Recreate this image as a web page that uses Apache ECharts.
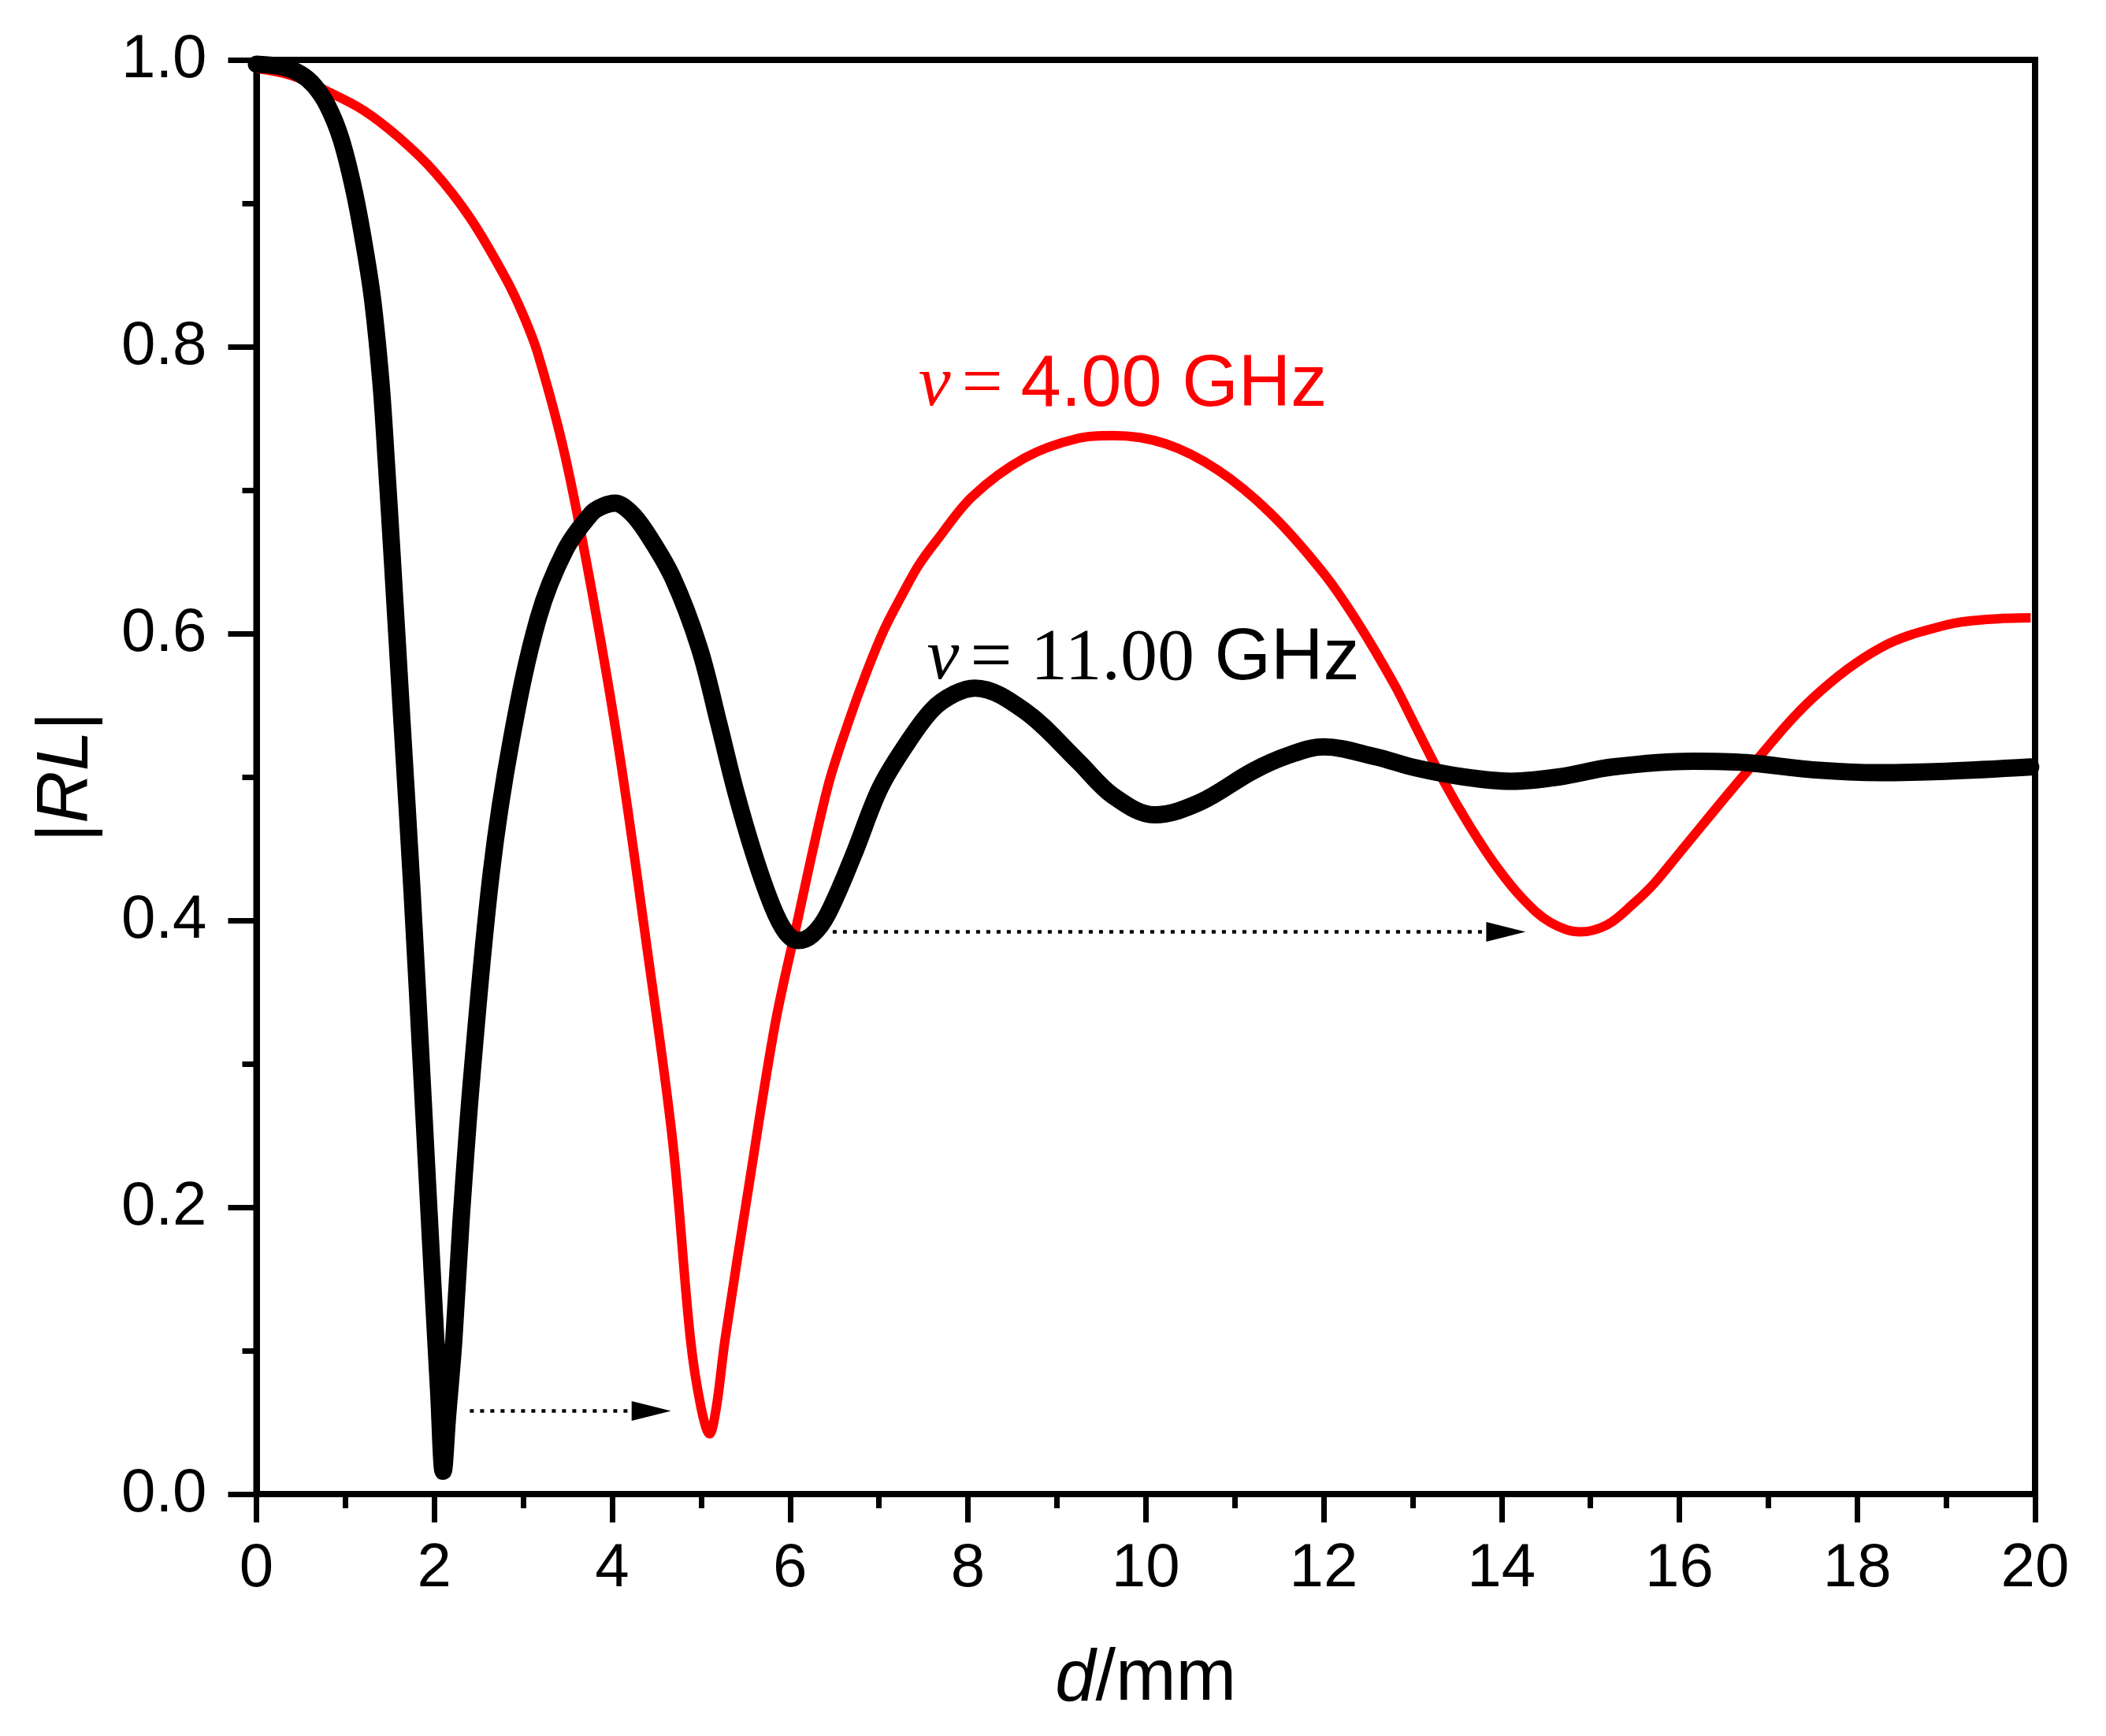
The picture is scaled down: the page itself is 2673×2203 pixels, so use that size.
<!DOCTYPE html>
<html>
<head>
<meta charset="utf-8">
<script src="https://cdn.jsdelivr.net/npm/echarts@6/dist/echarts.min.js"></script>
<style>
html,body{margin:0;padding:0;background:#fff;}
#chart{width:2673px;height:2203px;}
</style>
</head>
<body>
<div id="chart"></div>
<script>
// ---- data ----
var xTicks = [0, 2, 4, 6, 8, 10, 12, 14, 16, 18, 20];
var yTicks = [0.0, 0.2, 0.4, 0.6, 0.8, 1.0];

// nu = 11.00 GHz (black)
var blackX = [0, 0.3, 0.5, 0.65, 0.80, 0.95, 1.10, 1.22, 1.31, 1.40, 1.46, 1.52, 1.63, 1.75, 1.87, 1.98, 2.05, 2.10,
  2.15, 2.22, 2.30, 2.42, 2.64, 2.87, 3.17, 3.47, 3.77, 3.90, 4.03, 4.20, 4.38, 4.68, 4.98, 5.20, 5.38, 5.59, 5.80, 5.95, 6.09,
  6.25, 6.42, 6.71, 7.01, 7.30, 7.60, 7.85, 8.08, 8.64, 9.23, 9.63, 10.10, 10.61, 11.20, 11.60, 12.00, 12.59, 13.02,
  13.58, 14.11, 14.64, 15.25, 16.15, 16.75, 17.50, 18.26, 19.00, 19.95];
var blackY = [0.997, 0.995, 0.990, 0.982, 0.968, 0.945, 0.908, 0.868, 0.831, 0.775, 0.720, 0.660, 0.545, 0.420, 0.280, 0.150, 0.070, 0.016,
  0.055, 0.108, 0.190, 0.290, 0.433, 0.527, 0.611, 0.658, 0.684, 0.689, 0.691, 0.685, 0.671, 0.639, 0.590, 0.537, 0.492, 0.447, 0.410, 0.392, 0.386,
  0.390, 0.404, 0.445, 0.492, 0.522, 0.547, 0.558, 0.562, 0.546, 0.5115, 0.487, 0.4736, 0.4824, 0.504, 0.515, 0.521, 0.514, 0.5066,
  0.500, 0.497, 0.500, 0.507, 0.511, 0.510, 0.505, 0.503, 0.504, 0.507];

// nu = 4.00 GHz (red)
var redX = [0, 0.4, 0.8, 1.2, 1.6, 2.0, 2.4, 2.8, 3.0, 3.17, 3.47, 3.77, 4.08, 4.38, 4.68, 4.88, 5.00, 5.095,
  5.17, 5.27, 5.55, 5.83, 6.06, 6.42, 6.65, 6.86, 7.06, 7.26, 7.45, 7.65, 8.05, 8.64, 9.23, 9.63, 10.22, 10.81, 11.40, 12.00, 12.39,
  12.79, 13.02, 13.35, 13.65, 13.95, 14.24, 14.54, 14.88, 15.19, 15.48, 15.72, 16.00, 16.75, 17.50, 18.26, 19.00, 19.50, 19.95];
var redY = [0.994, 0.989, 0.978, 0.965, 0.946, 0.922, 0.890, 0.848, 0.822, 0.794, 0.724, 0.630, 0.517, 0.386, 0.246, 0.108, 0.060, 0.042,
  0.060, 0.108, 0.220, 0.327, 0.393, 0.492, 0.537, 0.573, 0.603, 0.627, 0.648, 0.665, 0.6956, 0.7225, 0.736, 0.738, 0.7324, 0.714, 0.684, 0.642, 0.607,
  0.565, 0.537, 0.497, 0.465, 0.437, 0.415, 0.399, 0.392, 0.397, 0.4115, 0.426, 0.447, 0.503, 0.555, 0.590, 0.606, 0.610, 0.611];

// dotted arrows: [x start, x end (arrow-head centre), y]
var arrowStartX = [2.40, 6.48];
var arrowEndX = [4.44, 14.05];
var arrowY = [0.058, 0.392];

// annotation labels: [x, y(baseline)] in data units
var redLabelPos = [7.445, 0.7555];
var blackLabelPos = [7.54, 0.5648];

// ---- chart ----
function pairs(xs, ys) { return xs.map(function (x, i) { return [x, ys[i]]; }); }

var FS = 'Liberation Sans, Arial, sans-serif';
var SERIF = 'Liberation Serif, Times New Roman, serif';

var chart = echarts.init(document.getElementById('chart'), null, {renderer: 'canvas'});

var arrowData = arrowStartX.map(function (s, i) {
  return [{coord: [s, arrowY[i]]}, {coord: [arrowEndX[i], arrowY[i]]}];
});

var axisCommon = {
  axisLine: {show: true, onZero: false, lineStyle: {color: '#000', width: 8}},
  axisTick: {show: true, inside: false, length: 36, lineStyle: {color: '#000', width: 7}},
  minorTick: {show: true, splitNumber: 2, length: 18, lineStyle: {color: '#000', width: 7}},
  splitLine: {show: false},
  minorSplitLine: {show: false}
};

var option = {
  backgroundColor: '#fff',
  animation: false,
  grid: {left: 325.5, right: 2673 - 2583, top: 76, bottom: 2203 - 1896,
    show: true, borderColor: '#000', borderWidth: 8, backgroundColor: 'transparent'},
  xAxis: Object.assign({
    type: 'value', min: 0, max: 20, interval: 2,
    axisLabel: {fontSize: 78, color: '#000', fontFamily: FS, margin: 56,
      formatter: function (v) { return xTicks.indexOf(v) >= 0 ? String(v) : ''; }},
    name: '{i|d}/mm', nameLocation: 'middle', nameGap: 190,
    nameTextStyle: {fontSize: 92, color: '#000', fontFamily: FS,
      rich: {i: {fontSize: 92, fontStyle: 'italic', fontFamily: FS, color: '#000'}}}
  }, axisCommon),
  yAxis: Object.assign({
    type: 'value', min: 0, max: 1, interval: 0.2,
    axisLabel: {fontSize: 78, color: '#000', fontFamily: FS, margin: 63,
      formatter: function (v) { return v.toFixed(1); }},
    name: '|{i|RL}|', nameLocation: 'middle', nameGap: 194, nameRotate: 90,
    nameTextStyle: {fontSize: 92, color: '#000', fontFamily: FS,
      rich: {i: {fontSize: 92, fontStyle: 'italic', fontFamily: FS, color: '#000'}}}
  }, axisCommon),
  series: [
    {
      name: '4.00 GHz', type: 'line', data: pairs(redX, redY),
      showSymbol: false, symbol: 'none', smooth: 0.35,
      lineStyle: {color: '#ff0000', width: 12, cap: 'butt', join: 'round'},
      z: 2
    },
    {
      name: '11.00 GHz', type: 'line', data: pairs(blackX, blackY),
      showSymbol: false, symbol: 'none', smooth: 0.35,
      lineStyle: {color: '#000', width: 22, cap: 'round', join: 'round'},
      z: 3,
      markLine: {
        silent: true, animation: false,
        symbol: ['none', 'triangle'], symbolSize: [25, 50],
        label: {show: false},
        lineStyle: {color: '#000', width: 4.5, type: [5, 8], cap: 'butt'},
        data: arrowData
      }
    }
  ]
};
chart.setOption(option);

function labelGraphic() {
  var pr = chart.convertToPixel({gridIndex: 0}, redLabelPos);
  var pb = chart.convertToPixel({gridIndex: 0}, blackLabelPos);
  var mid = 31; // baseline -> em-middle offset for 90px text
  chart.setOption({
    graphic: [
      {type: 'text', x: pr[0], y: pr[1] - mid, z: 10, silent: true,
        style: {text: '{nu|ν}{eq|= }{num|4.00 GHz}', align: 'left', verticalAlign: 'middle',
          rich: {
            nu: {fontSize: 92, fontStyle: 'italic', fontFamily: SERIF, fill: '#ff0000', padding: [0, 14, 0, 0]},
            eq: {fontSize: 92, fontFamily: SERIF, fill: '#ff0000'},
            num: {fontSize: 92, fontFamily: FS, fill: '#ff0000'}
          }}},
      {type: 'text', x: pb[0], y: pb[1] - mid, z: 10, silent: true,
        style: {text: '{nu|ν}{eq|= 11.00}{u| GHz}', align: 'left', verticalAlign: 'middle',
          rich: {
            nu: {fontSize: 92, fontStyle: 'italic', fontFamily: SERIF, fill: '#000', padding: [0, 14, 0, 0]},
            eq: {fontSize: 94, fontFamily: SERIF, fill: '#000'},
            u: {fontSize: 92, fontFamily: FS, fill: '#000'}
          }}}
    ]
  });
}
labelGraphic();
</script>
</body>
</html>
